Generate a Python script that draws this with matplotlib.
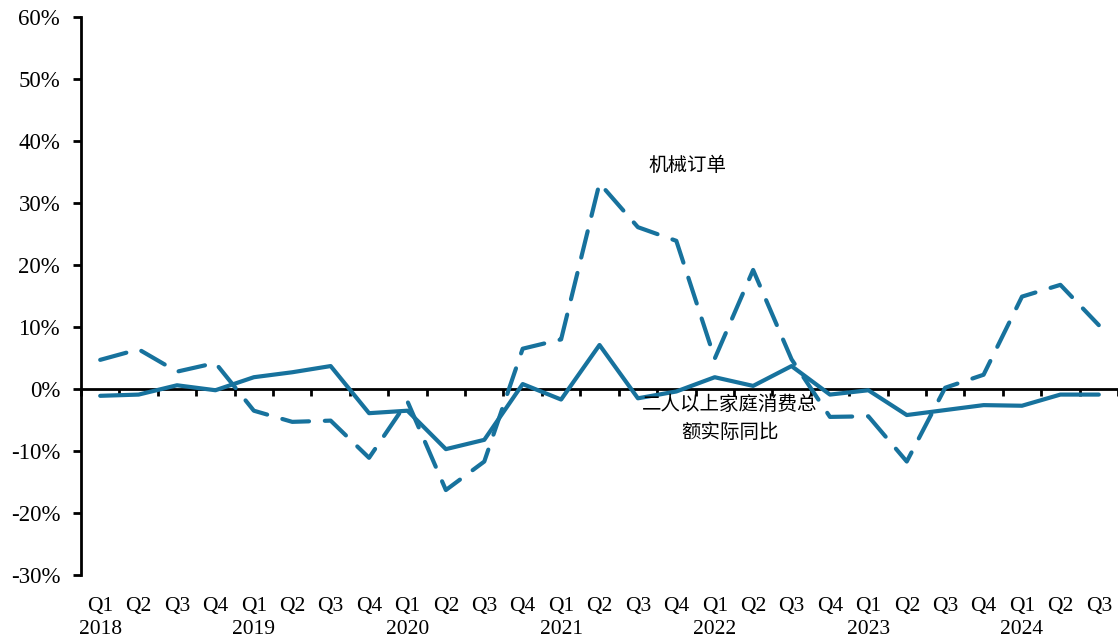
import numpy as np
import matplotlib.pyplot as plt
from matplotlib.ticker import FixedLocator, PercentFormatter

plt.rcParams["axes.unicode_minus"] = False

# quarters 2018Q1 .. 2024Q3
quarters = ["Q1", "Q2", "Q3", "Q4"] * 6 + ["Q1", "Q2", "Q3"]
years = ["2018", "2019", "2020", "2021", "2022", "2023", "2024"]

# machinery orders yoy (%), dashed
machine_orders = [4.7, 6.4, 2.8, 4.2, -3.5, -5.3, -5.1, -11.1, -2.0, -16.3,
                  -11.7, 6.5, 8.0, 33.2, 26.1, 23.9, 4.9, 19.2, 4.8, -4.5,
                  -4.4, -11.7, 0.2, 2.3, 14.9, 16.8, 10.3]
# household consumption (2+ persons) real yoy (%), solid
consumption = [-1.1, -0.9, 0.6, -0.2, 1.9, 2.7, 3.7, -3.9, -3.5, -9.7,
               -8.2, 0.8, -1.7, 7.1, -1.5, -0.4, 1.9, 0.5, 3.7, -0.9,
               -0.2, -4.2, -3.4, -2.6, -2.7, -0.9, -0.9]

labels = []
yi = 0
for q in quarters:
    if q == "Q1":
        labels.append(q + "\n" + years[yi])
        yi += 1
    else:
        labels.append(q + "\n ")

color = "#17729D"
x = np.arange(len(quarters))

fig = plt.figure(figsize=(11.18, 6.42), dpi=100)
ax = fig.add_axes([81 / 1118, 1 - 575 / 642, 1 - 81 / 1118, (575 - 17) / 642])

ax.plot(x, machine_orders, color=color, lw=3.0, dashes=(6.5, 3.8),
        dash_capstyle="round")
ax.plot(x, consumption, color=color, lw=3.0, solid_capstyle="round")

ax.set_xlim(-0.5, len(x) - 0.5)
ax.set_ylim(-30, 60)
ax.set_yticks(np.arange(-30, 61, 10))
ax.yaxis.set_major_formatter(PercentFormatter(decimals=0))

ax.set_xticks(x)
ax.set_xticklabels(labels, linespacing=1.3)
ax.tick_params(axis="x", length=0, pad=16)
ax.tick_params(axis="y", direction="out", length=6, width=2, pad=9)

for s in ["top", "right", "bottom"]:
    ax.spines[s].set_visible(False)
ax.spines["left"].set_linewidth(2)

# zero line with boundary ticks
sec = ax.secondary_xaxis(1 / 3)
sec.xaxis.set_major_locator(FixedLocator(np.arange(-0.5, len(x) + 0.5, 1)))
sec.tick_params(axis="x", direction="out", length=5, width=2, labelbottom=False)
sec.spines["bottom"].set_linewidth(2)

for lab in ax.get_yticklabels():
    lab.set_fontfamily("Liberation Serif")
    lab.set_fontsize(16.5)
for lab in ax.get_xticklabels():
    lab.set_fontfamily("Liberation Serif")
    lab.set_fontsize(15.5)

cjk = ["Noto Sans CJK SC", "DejaVu Sans"]
ax.text(15.3, 36, "机械订单", family=cjk, fontsize=14, ha="center", va="center")
ax.text(16.4, -4.7, "二人以上家庭消费总\n额实际同比", family=cjk, fontsize=14,
        ha="center", va="center", linespacing=1.45)

fig.savefig("out.png", dpi=100)
